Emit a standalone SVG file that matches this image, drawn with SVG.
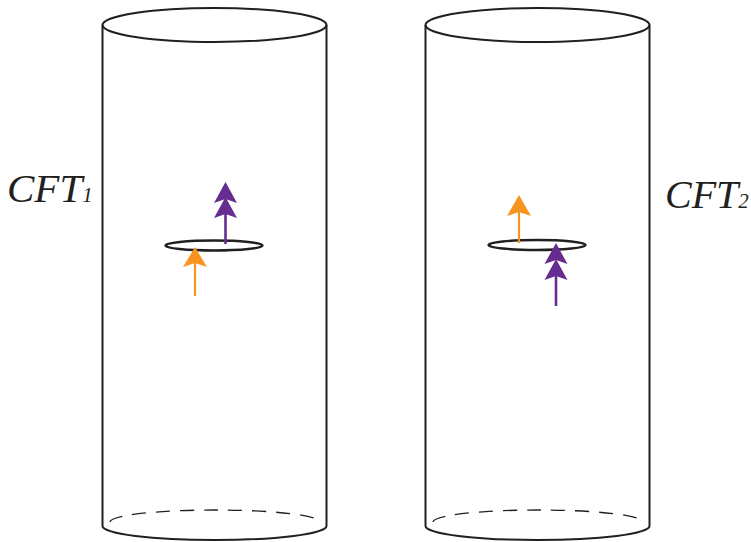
<svg xmlns="http://www.w3.org/2000/svg" width="751" height="542" viewBox="0 0 751 542">
<style>
.ln{fill:none;stroke:#231f20;stroke-width:2}
.dash{fill:none;stroke:#231f20;stroke-width:1.3;stroke-dasharray:14 10}
.ring{fill:none;stroke:#231f20;stroke-width:2.4}
.or{stroke:#f7941d;stroke-width:2.2;fill:none}
.pu{stroke:#662d91;stroke-width:2.6;fill:none}
.orf{fill:#f7941d}
.puf{fill:#662d91}
.lbl{font-family:"Liberation Serif",serif;font-style:italic;fill:#231f20}
</style>
<g id="cylinder1">
<ellipse class="ln" cx="214.5" cy="25" rx="112" ry="17"/>
<line class="ln" x1="102.5" y1="25" x2="102.5" y2="526"/>
<line class="ln" x1="326.5" y1="25" x2="326.5" y2="526"/>
<path class="ln" d="M102.5 526 A112 14 0 0 0 326.5 526"/>
<path class="dash" d="M110 522 A105 12 0 0 1 320 522"/>
</g>
<g id="cylinder2">
<ellipse class="ln" cx="537.5" cy="25" rx="112" ry="17"/>
<line class="ln" x1="425.5" y1="25" x2="425.5" y2="526"/>
<line class="ln" x1="649.5" y1="25" x2="649.5" y2="526"/>
<path class="ln" d="M425.5 526 A112 14 0 0 0 649.5 526"/>
<path class="dash" d="M433 522 A105 12 0 0 1 643 522"/>
</g>
<g id="ring1"><ellipse class="ring" cx="214" cy="245.5" rx="48.5" ry="5"/></g>
<g id="ring2"><ellipse class="ring" cx="537" cy="245" rx="48.5" ry="5"/></g>
<g id="label1"><text class="lbl" x="7" y="202" font-size="41">CFT<tspan font-size="21">1</tspan></text></g>
<g id="label2"><text class="lbl" x="665" y="208" font-size="40">CFT<tspan font-size="21">2</tspan></text></g>
<g id="connectors">
<line class="pu" x1="225.5" y1="244" x2="225.5" y2="210"/>
<polygon class="puf" points="225.5,182 237,203 225.5,199 214,203"/>
<polygon class="puf" points="225.5,197 237,218 225.5,214 214,218"/>
<line class="or" x1="195" y1="296" x2="195" y2="262"/>
<polygon class="orf" points="195,247 207,267 195,263 183,267"/>
<line class="or" x1="519" y1="243" x2="519" y2="210"/>
<polygon class="orf" points="519,195 531,216 519,212 507,216"/>
<line class="pu" x1="556" y1="306" x2="556" y2="270"/>
<polygon class="puf" points="556,243 567.5,264 556,260 544.5,264"/>
<polygon class="puf" points="556,259 567.5,280 556,276 544.5,280"/>
</g>
</svg>
